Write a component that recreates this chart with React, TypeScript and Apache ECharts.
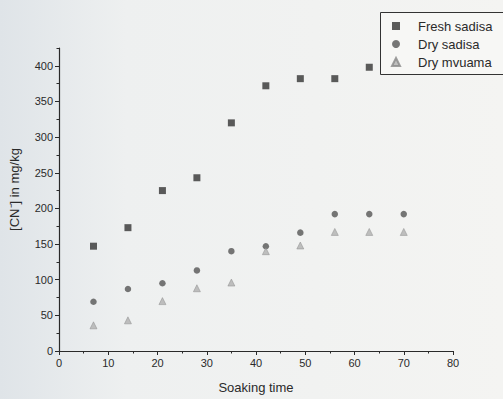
import React, { useEffect, useRef } from "react";
import * as echarts from "echarts";

const soakingTimes = [7, 14, 21, 28, 35, 42, 49, 56, 63, 70];
const freshSadisa = [147, 173, 225, 243, 320, 372, 382, 382, 398];
const drySadisa = [69, 87, 95, 113, 140, 147, 166, 192, 192, 192];
const dryMvuama = [36, 43, 70, 88, 96, 140, 148, 167, 167, 167];
const yTickLabels = [0, 50, 100, 150, 200, 250, 300, 350, 400];

const font = "'Liberation Sans', Arial, Helvetica, sans-serif";
const ink = "#2a2a2a";

export default function App() {
  const ref = useRef<HTMLDivElement>(null);
  useEffect(() => {
    document.body.style.margin = "0";
    const chart = echarts.init(ref.current!, null, { renderer: "svg" });
    const pair = (ys: number[]) => ys.map((y, i) => [soakingTimes[i], y]);
    chart.setOption({
      animation: false,
      backgroundColor: {
        type: "linear",
        x: 0, y: 0, x2: 1, y2: 0,
        colorStops: [
          { offset: 0, color: "#dfe4e8" },
          { offset: 0.25, color: "#eef0f0" },
          { offset: 1, color: "#f4f4f2" },
        ],
      },
      graphic: [
        {
          type: "rect",
          z: 0,
          shape: { x: 380.5, y: 12.5, width: 140, height: 62 },
          style: { fill: "#f7f7f5", stroke: "#333", lineWidth: 1 },
        },
      ],
      grid: { left: 58, right: 50, top: 48, bottom: 44 },
      legend: {
        orient: "vertical",
        left: 380,
        top: 12,
        padding: [7, 10, 7, 11],
        itemGap: 4,
        itemWidth: 8,
        itemHeight: 8,
        borderWidth: 0,
        textStyle: {
          fontFamily: font,
          fontSize: 13,
          color: ink,
          lineHeight: 14,
          padding: [0, 0, 0, 13],
        },
        data: ["Fresh sadisa", "Dry sadisa", "Dry mvuama"],
      },
      xAxis: {
        type: "value",
        min: 0,
        max: 80,
        interval: 10,
        name: "Soaking time",
        nameLocation: "middle",
        nameGap: 30,
        nameTextStyle: { fontFamily: font, fontSize: 13, color: ink },
        axisLine: { lineStyle: { color: ink, width: 1.2 } },
        axisTick: { inside: false, length: 4, lineStyle: { color: ink } },
        minorTick: { show: true, splitNumber: 2, length: 2.5, lineStyle: { color: ink } },
        axisLabel: { fontFamily: font, fontSize: 11, color: ink, margin: 6 },
        splitLine: { show: false },
      },
      yAxis: [
        {
          type: "value",
          min: 0,
          max: 425,
          interval: 50,
          name: "[CN⁻] in mg/kg",
          nameLocation: "middle",
          nameGap: 38,
          nameTextStyle: { fontFamily: font, fontSize: 13, color: ink, padding: [0, 0, 0, 20] },
          axisLine: { lineStyle: { color: ink, width: 1.2 } },
          axisTick: { inside: false, length: 4, lineStyle: { color: ink }, customValues: yTickLabels },
          axisLabel: { fontFamily: font, fontSize: 11, color: ink, margin: 6, customValues: yTickLabels },
          splitLine: { show: false },
        },
        {
          type: "value",
          min: 0,
          max: 425,
          interval: 25,
          position: "left",
          axisLine: { show: false },
          axisTick: { inside: false, length: 2.5, lineStyle: { color: ink } },
          axisLabel: { show: false },
          splitLine: { show: false },
        },
      ],
      series: [
        {
          name: "Fresh sadisa",
          type: "scatter",
          symbol: "rect",
          symbolSize: 7,
          itemStyle: { color: "#333333" },
          data: pair(freshSadisa),
        },
        {
          name: "Dry sadisa",
          type: "scatter",
          symbol: "circle",
          symbolSize: 6.5,
          itemStyle: { color: "#555555" },
          data: pair(drySadisa),
        },
        {
          name: "Dry mvuama",
          type: "scatter",
          symbol: "triangle",
          symbolSize: 7,
          itemStyle: { color: "#b0b0b0", borderColor: "#888", borderWidth: 0.6 },
          data: pair(dryMvuama),
        },
      ],
    });
    return () => chart.dispose();
  }, []);
  return <div ref={ref} style={{ width: 503, height: 399 }} />;
}
